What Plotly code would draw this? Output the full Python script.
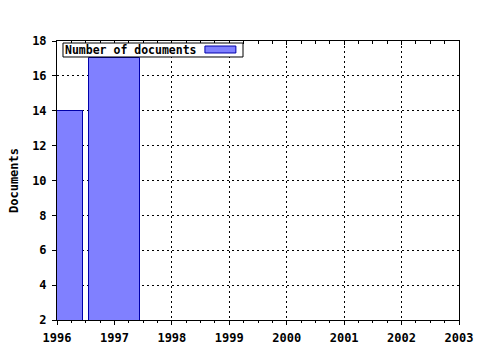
import plotly.graph_objects as go

years = [1996, 1997]
documents = [14, 17]
series_name = "Number of documents"
x_ticks = [1996, 1997, 1998, 1999, 2000, 2001, 2002, 2003]
y_ticks = [2, 4, 6, 8, 10, 12, 14, 16, 18]

FONT = "DejaVu Sans Mono"
fill = "#8080ff"
edge = "#0000aa"

fig = go.Figure()
fig.add_trace(go.Bar(x=years, y=documents, width=0.9, name=series_name,
                     marker=dict(color=fill, line=dict(color=edge, width=1)),
                     showlegend=False))
# invisible trace for top axis
fig.add_trace(go.Scatter(x=[x_ticks[0], x_ticks[-1]], y=[None, None], xaxis="x2",
                         mode="lines", showlegend=False, hoverinfo="skip"))

grid = dict(showgrid=True, gridcolor="black", griddash="2px,3px", gridwidth=1)
fig.update_layout(
    width=480, height=350,
    margin=dict(l=57, r=21, t=41, b=30),
    paper_bgcolor="white", plot_bgcolor="white",
    showlegend=False,
    xaxis=dict(range=[x_ticks[0], x_ticks[-1]], tickvals=x_ticks,
               ticktext=[str(v) for v in x_ticks], automargin=False,
               showline=True, linecolor="black", linewidth=1, mirror=True,
               ticks="outside", ticklen=4, tickcolor="black", ticklabelstandoff=3,
               minor=dict(dtick=0.25, ticks="outside", ticklen=2, tickcolor="black", showgrid=False),
               tickfont=dict(family=FONT, size=12, color="black", weight="bold"),
               zeroline=False, **grid),
    xaxis2=dict(range=[x_ticks[0], x_ticks[-1]], overlaying="x", side="top", automargin=False,
                showticklabels=False, showgrid=False, zeroline=False,
                tickvals=x_ticks, ticks="inside", ticklen=4, tickcolor="black",
                minor=dict(dtick=0.25, ticks="inside", ticklen=3, tickcolor="black", showgrid=False)),
    yaxis=dict(range=[y_ticks[0], y_ticks[-1]], tickvals=y_ticks, automargin=False,
               showline=True, linecolor="black", linewidth=1, mirror=True,
               ticks="outside", ticklen=4, tickcolor="black", ticklabelstandoff=3,
               tickfont=dict(family=FONT, size=12, color="black", weight="bold"),
               title=dict(text="Documents", font=dict(family=FONT, size=12, color="black", weight="bold"),
                          standoff=10),
               zeroline=False, **grid),
    bargap=0,
)

# manual legend: box, text, swatch
fig.add_shape(type="rect", xref="paper", yref="paper", x0=0.0149, x1=0.4627, y0=0.9427, y1=0.9928,
              fillcolor="white", line=dict(color="black", width=1), layer="above")
fig.add_shape(type="rect", xref="paper", yref="paper", x0=0.368, x1=0.445, y0=0.957, y1=0.982,
              fillcolor=fill, line=dict(color=edge, width=1), layer="above")
fig.add_annotation(xref="paper", yref="paper", x=0.014, y=0.968, xanchor="left", yanchor="middle",
                   text=series_name, showarrow=False,
                   font=dict(family=FONT, size=11.5, color="black", weight="bold"))

fig.write_html("out.html")
